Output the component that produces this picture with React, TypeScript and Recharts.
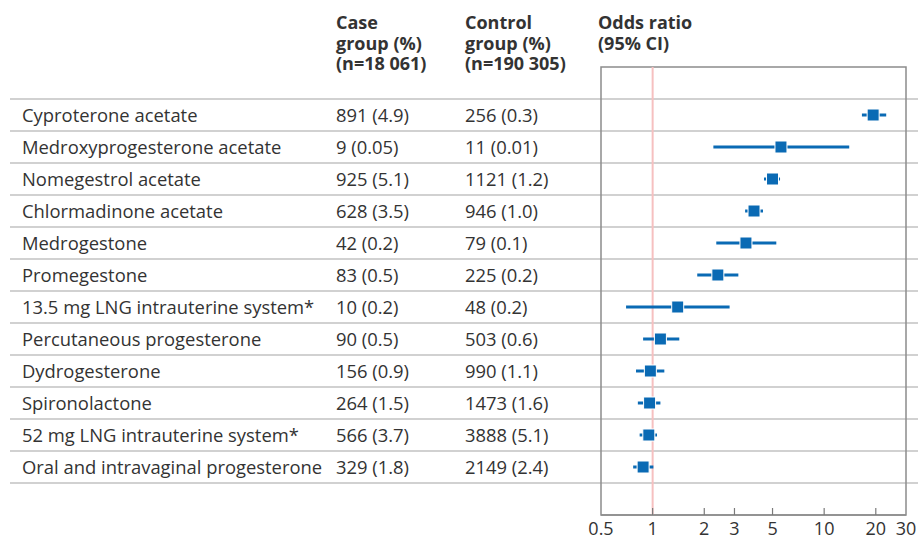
import { ScatterChart, Scatter, XAxis, YAxis, CartesianGrid, ErrorBar, ReferenceLine, ReferenceArea } from 'recharts';

const drugs = [
  'Cyproterone acetate',
  'Medroxyprogesterone acetate',
  'Nomegestrol acetate',
  'Chlormadinone acetate',
  'Medrogestone',
  'Promegestone',
  '13.5 mg LNG intrauterine system*',
  'Percutaneous progesterone',
  'Dydrogesterone',
  'Spironolactone',
  '52 mg LNG intrauterine system*',
  'Oral and intravaginal progesterone',
];
const caseGroup = ['891 (4.9)', '9 (0.05)', '925 (5.1)', '628 (3.5)', '42 (0.2)', '83 (0.5)', '10 (0.2)', '90 (0.5)', '156 (0.9)', '264 (1.5)', '566 (3.7)', '329 (1.8)'];
const controlGroup = ['256 (0.3)', '11 (0.01)', '1121 (1.2)', '946 (1.0)', '79 (0.1)', '225 (0.2)', '48 (0.2)', '503 (0.6)', '990 (1.1)', '1473 (1.6)', '3888 (5.1)', '2149 (2.4)'];
const oddsRatio = [19.3, 5.6, 5.0, 3.9, 3.5, 2.4, 1.4, 1.11, 0.97, 0.96, 0.95, 0.88];
const ciLow = [16.6, 2.26, 4.46, 3.46, 2.35, 1.82, 0.7, 0.88, 0.8, 0.82, 0.84, 0.77];
const ciHigh = [23.0, 14.0, 5.53, 4.4, 5.26, 3.16, 2.81, 1.43, 1.17, 1.11, 1.06, 1.01];
const xTicks = [0.5, 1, 2, 3, 5, 10, 20, 30];

const headers = [
  { x: 336, lines: ['Case', 'group (%)', '(n=18 061)'] },
  { x: 465, lines: ['Control', 'group (%)', '(n=190 305)'] },
  { x: 598, lines: ['Odds ratio', '(95% CI)'] },
];

const BLUE = '#0a6ab4';
const TEXT = '#333';
const FONT = '"Open Sans", sans-serif';

const data = drugs.map((name, i) => ({
  name,
  row: i + 1.5,
  or: oddsRatio[i],
  err: [oddsRatio[i] - ciLow[i], ciHigh[i] - oddsRatio[i]],
}));

// one row per drug, centred on i + 1.5; separators between rows
const rowTicks = drugs.map((_, i) => i + 1.5);
const sepValues = [...drugs.map((_, i) => i + 1), drugs.length + 1];

function RowLabel({ y, payload }: any) {
  const i = Math.round(payload.value - 1.5);
  const ty = y + 7;
  return (
    <g fill={TEXT} fontSize={18.4} fontFamily={FONT}>
      <text x={22} y={ty}>{drugs[i]}</text>
      <text x={336} y={ty}>{caseGroup[i]}</text>
      <text x={465} y={ty}>{controlGroup[i]}</text>
    </g>
  );
}

function XTick({ x, y, payload }: any) {
  const edge = payload.value === 0.5 || payload.value === 30;
  return (
    <g>
      {!edge && <line x1={x} x2={x} y1={y} y2={y - 7} stroke="#7a7a7a" strokeWidth={1.2} />}
      <text x={x} y={y + 20} textAnchor="middle" fill={TEXT} fontSize={18} fontFamily={FONT}>
        {payload.value}
      </text>
    </g>
  );
}

function Square({ cx, cy }: any) {
  return <rect x={cx - 6} y={cy - 6} width={12} height={12} fill={BLUE} stroke="#fff" strokeWidth={1} />;
}

export default function App() {
  return (
    <div style={{ position: 'absolute', left: 0, top: 0, fontFamily: FONT }}>
      <ScatterChart width={918} height={540} margin={{ top: 67, right: 12, bottom: 0, left: 0 }}>
        <CartesianGrid
          yAxisId="rows"
          vertical={false}
          horizontalValues={sepValues}
          x={10}
          width={908}
          stroke="#c2c2c2"
          strokeWidth={1.5}
        />
        <XAxis
          type="number"
          dataKey="or"
          scale="log"
          domain={[0.5, 30]}
          ticks={xTicks}
          interval={0}
          allowDataOverflow
          height={25}
          tickSize={0}
          tickMargin={0}
          tickLine={false}
          axisLine={{ stroke: '#8c8c8c', strokeWidth: 1.5 }}
          tick={<XTick />}
        />
        <YAxis
          yAxisId="rows"
          type="number"
          dataKey="row"
          domain={[0, 14]}
          reversed
          ticks={rowTicks}
          interval={0}
          width={601}
          axisLine={false}
          tickLine={false}
          tick={<RowLabel />}
        />
        <ReferenceArea yAxisId="rows" x1={0.5} x2={30} y1={0} y2={14} fill="none" stroke="#8c8c8c" strokeWidth={1.5} />
        <ReferenceLine yAxisId="rows" x={1} stroke="#f6c0c0" strokeWidth={2} />
        <Scatter yAxisId="rows" data={data} shape={<Square />} isAnimationActive={false}>
          <ErrorBar dataKey="err" direction="x" width={0} stroke={BLUE} strokeWidth={3} />
        </Scatter>
        <g fill={TEXT} fontSize={18} fontWeight={700} fontFamily={FONT}>
          {headers.map((h) => (
            <text key={h.x} x={h.x} y={29}>
              {h.lines.map((line, j) => (
                <tspan key={j} x={h.x} dy={j === 0 ? 0 : 20.5}>
                  {line}
                </tspan>
              ))}
            </text>
          ))}
        </g>
      </ScatterChart>
    </div>
  );
}
